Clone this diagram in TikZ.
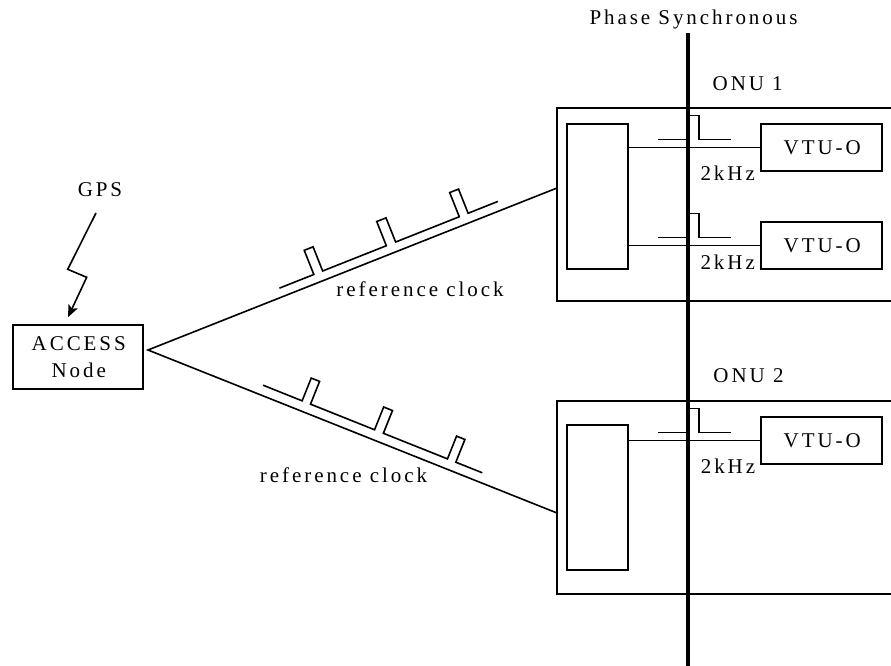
\documentclass[tikz,border=0pt]{standalone}
\usepackage{fontspec}
\setmainfont{Liberation Serif}[LetterSpace=14]
\usetikzlibrary{arrows.meta,calc}
\begin{document}
\begin{tikzpicture}[x=1pt,y=-1pt,
  every node/.style={font=\fontsize{21}{27}\selectfont, inner sep=0pt},
  box/.style={draw, line width=1.6pt, inner sep=0pt},
  wire/.style={line width=1.6pt},
  clk/.style={line width=1.6pt, line join=miter},
  phase/.style={line width=3.2pt}]
\useasboundingbox (0,0) rectangle (891,666);
\clip (0,0) rectangle (891,666);

% ---- labels
\node (ps) at (693.5,19.5) {Phase Synchronous};
\node (gps) at (100,190) {GPS};
\node (onu1lbl) at (747.7,84) {ONU 1};
\node (onu2lbl) at (748.5,375.7) {ONU 2};
\node (rc1) at (420,289) {reference clock};
\node (rc2) at (343.5,475) {reference clock};

% ---- access node
\node[box, minimum width=130pt, minimum height=64pt, align=center] (access) at (78,357)
  {\hspace*{1.5pt}ACCESS\\\hspace*{1.5pt}Node};
\coordinate (apex) at (148,350);

% ---- ONU boxes
\node[box, minimum width=343pt, minimum height=193pt] (onu1) at (728.5,204.5) {};
\node[box, minimum width=343pt, minimum height=193pt] (onu2) at (728.5,497.5) {};
\node[box, minimum width=61pt, minimum height=145pt] (in1) at (597.5,196.5) {};
\node[box, minimum width=61pt, minimum height=145pt] (in2) at (597.5,497.5) {};
\node[box, minimum width=121pt, minimum height=47pt] (vtu1) at (821.5,147.5) {\hspace*{1.5pt}VTU-O};
\node[box, minimum width=121pt, minimum height=47pt] (vtu2) at (821.5,245.5) {\hspace*{1.5pt}VTU-O};
\node[box, minimum width=121pt, minimum height=47pt] (vtu3) at (821.5,440.5) {\hspace*{1.5pt}VTU-O};

\node (k1) at (727.7,173.7) {2kHz};
\node (k2) at (727.7,262.5) {2kHz};
\node (k3) at (728,465.8) {2kHz};

% ---- connectors
\coordinate (e1) at (557,188);
\coordinate (e2) at (557,513);
\draw[wire] (e1) -- (apex) -- (e2);
\draw[wire] (in1.east |- vtu1.west) -- (vtu1.west);
\draw[wire] (in1.east |- vtu2.west) -- (vtu2.west);
\draw[wire] (in2.east |- vtu3.west) -- (vtu3.west);

% ---- GPS lightning arrow
\coordinate (z0) at (96,213);
\coordinate (z1) at (67.7,269.3);
\coordinate (z2) at (86.7,277.3);
\coordinate (z3) at ($(access.north)+(-10,-7)$);
\draw[wire, line join=miter, -{Stealth[length=12pt,width=10pt,inset=2.5pt]}] (z0) -- (z1) -- (z2) -- (z3);

% ---- phase line
\coordinate (pt) at (688,33);
\coordinate (pb) at (688,670);
\draw[phase] (pt) -- (pb);

% ---- 2 kHz pulses
\foreach \v in {vtu1,vtu2,vtu3}{
  \draw[clk] ($(pt |- \v.west)+(-30,-8)$) -- ++(30,0) -- ++(0,-24) -- ++(11,0) -- ++(0,24) -- ++(32,0);
}

% ---- reference clock waveforms
\begin{scope}[shift={(apex)}, rotate=21.65]
  \draw[clk] (145,-9) -- (182,-9) -- (182,-35) -- (191.5,-35) -- (191.5,-9)
    -- (260,-9) -- (260,-35) -- (270,-35) -- (270,-9)
    -- (338.5,-9) -- (338.5,-35) -- (348,-35) -- (348,-9) -- (380,-9);
\end{scope}
\begin{scope}[shift={(apex)}, rotate=-21.78]
  \draw[clk] (120,-10) -- (162,-10) -- (162,-34.5) -- (171,-34.5) -- (171,-10)
    -- (240,-10) -- (240,-34.5) -- (249.5,-34.5) -- (249.5,-10)
    -- (318.5,-10) -- (318.5,-34.5) -- (327.5,-34.5) -- (327.5,-10) -- (356,-10);
\end{scope}
\end{tikzpicture}
\end{document}
